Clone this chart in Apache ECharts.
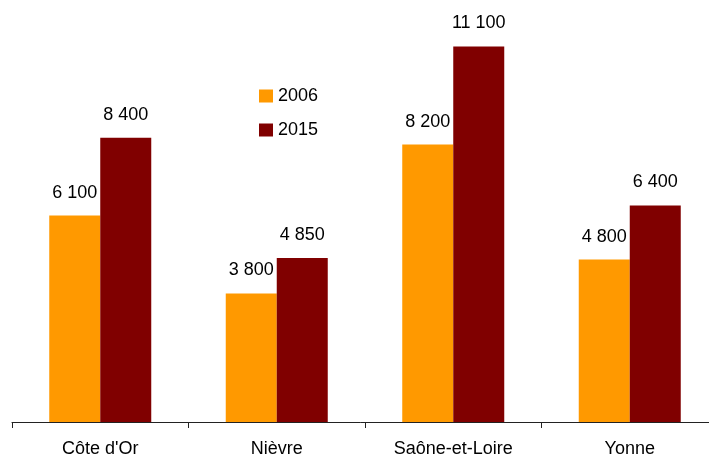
<!DOCTYPE html>
<html>
<head>
<meta charset="utf-8">
<script src="https://cdn.jsdelivr.net/npm/echarts@6/dist/echarts.min.js"></script>
<style>html,body{margin:0;padding:0;background:#fff}#c{width:709px;height:457px}</style>
</head>
<body>
<div id="c"></div>
<script>
const categories = ["Côte d'Or", "Nièvre", "Saône-et-Loire", "Yonne"];
const values2006 = [6100, 3800, 8200, 4800];
const values2015 = [8400, 4850, 11100, 6400];
const seriesNames = ["2006", "2015"];

const fmt = v => String(v).replace(/\B(?=(\d{3})+(?!\d))/g, ' ');
const font = 'Liberation Sans, Arial, sans-serif';
const chart = echarts.init(document.getElementById('c'));
const label = {
  show: true, position: 'top', distance: 14, color: '#000',
  fontFamily: font, fontSize: 18,
  formatter: p => fmt(p.value)
};
chart.setOption({
  animation: false,
  backgroundColor: '#fff',
  grid: { left: 12, top: 16, width: 706, height: 406, containLabel: false, outerBoundsMode: 'none' },
  legend: {
    orient: 'vertical', left: 259, top: 87, padding: 0,
    itemWidth: 14, itemHeight: 13, itemGap: 16,
    icon: 'rect',
    textStyle: { fontFamily: font, fontSize: 18, color: '#000' },
    data: seriesNames
  },
  xAxis: {
    type: 'category', data: categories,
    axisLine: { lineStyle: { color: '#222', width: 1 } },
    axisTick: { show: true, length: 6, lineStyle: { color: '#222' } },
    axisLabel: { fontFamily: font, fontSize: 18, color: '#000', margin: 18 }
  },
  yAxis: { type: 'value', min: 0, max: 12000, show: false, splitLine: { show: false } },
  series: [
    { name: seriesNames[0], type: 'bar', data: values2006, barWidth: 51, barGap: '0%',
      itemStyle: { color: '#FF9900' }, label },
    { name: seriesNames[1], type: 'bar', data: values2015, barWidth: 51, barGap: '0%',
      itemStyle: { color: '#800000' }, label }
  ]
});
</script>
</body>
</html>
